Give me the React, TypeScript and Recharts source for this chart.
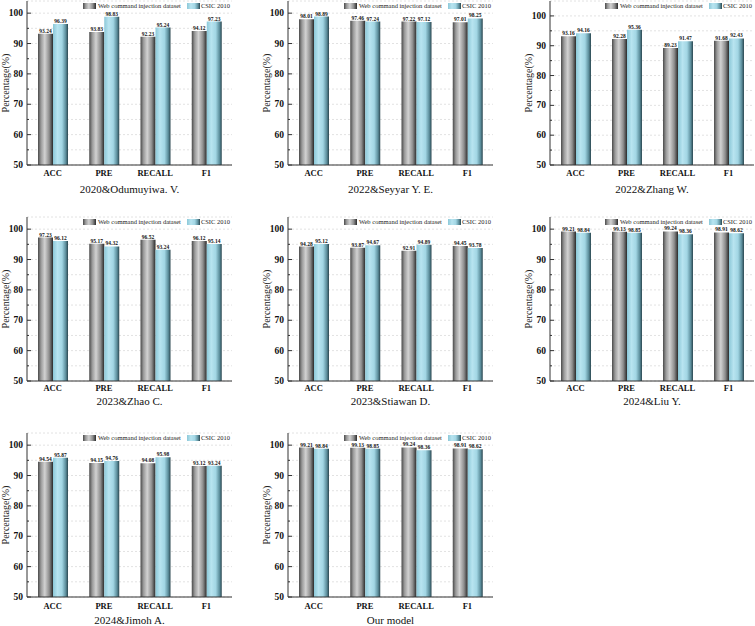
import React from 'react';
import { BarChart, Bar, XAxis, YAxis, CartesianGrid, LabelList, Legend, Label } from 'recharts';

const metrics = ['ACC', 'PRE', 'RECALL', 'F1'];
const yTicks = [50, 55, 60, 65, 70, 75, 80, 85, 90, 95, 100];
const seriesNames = ['Web command injection dataset', 'CSIC 2010'];

const odumuyiwaWeb = [93.24, 93.83, 92.23, 94.12];
const odumuyiwaCsic = [96.39, 98.83, 95.24, 97.23];
const seyyarWeb = [98.01, 97.46, 97.22, 97.01];
const seyyarCsic = [98.89, 97.24, 97.12, 98.25];
const zhangWeb = [93.16, 92.28, 89.23, 91.68];
const zhangCsic = [94.16, 95.36, 91.47, 92.43];
const zhaoWeb = [97.23, 95.17, 96.52, 96.12];
const zhaoCsic = [96.12, 94.32, 93.24, 95.14];
const stiawanWeb = [94.28, 93.87, 92.91, 94.45];
const stiawanCsic = [95.12, 94.67, 94.89, 93.78];
const liuWeb = [99.21, 99.13, 99.24, 98.91];
const liuCsic = [98.84, 98.85, 98.36, 98.62];
const jimohWeb = [94.54, 94.15, 94.08, 93.12];
const jimohCsic = [95.87, 94.76, 95.98, 93.24];
const oursWeb = [99.21, 99.13, 99.24, 98.91];
const oursCsic = [98.84, 98.85, 98.36, 98.62];

const panels = [
  { title: '2020&Odumuyiwa. V.', web: odumuyiwaWeb, csic: odumuyiwaCsic, col: 0, row: 0, yMax: 104 },
  { title: '2022&Seyyar Y. E.', web: seyyarWeb, csic: seyyarCsic, col: 1, row: 0, yMax: 104 },
  { title: '2022&Zhang W.', web: zhangWeb, csic: zhangCsic, col: 2, row: 0, yMax: 105 },
  { title: '2023&Zhao C.', web: zhaoWeb, csic: zhaoCsic, col: 0, row: 1, yMax: 104 },
  { title: '2023&Stiawan D.', web: stiawanWeb, csic: stiawanCsic, col: 1, row: 1, yMax: 104 },
  { title: '2024&Liu Y.', web: liuWeb, csic: liuCsic, col: 2, row: 1, yMax: 104 },
  { title: '2024&Jimoh A.', web: jimohWeb, csic: jimohCsic, col: 0, row: 2, yMax: 104 },
  { title: 'Our model', web: oursWeb, csic: oursCsic, col: 1, row: 2, yMax: 104 },
];

// layout of the 3x3 grid
const colLeft = [0, 250, 505];
const yAxisWidth = [27, 38, 45];
const rightMargin = [18, 7, 1];
const rowTop = [0, 216, 432];
const rowXAxisHeight = [36, 36, 28];
const rowTitleDy = [24, 20, 22.5];
const rowTickMargin = [5, 4, 6];

const serif = "'Liberation Serif', 'Times New Roman', serif";
const grayCss = 'linear-gradient(to right, #4a4a4a, #9a9a9a 20%, #d2d2d2 45%, #8e8e8e 75%, #2a2a2a)';
const blueCss = 'linear-gradient(to right, #8cc8d8, #b8e4f0 30%, #a2d6e4 60%, #5c8e9c 85%, #2a464f)';

const YTick = (props: any) => {
  const { x, y, payload } = props;
  const major = payload.value % 10 === 0;
  const ax = x + 4;
  return (
    <g>
      <line x1={ax} x2={ax + (major ? 4 : 2)} y1={y} y2={y} stroke="#333" strokeWidth={1} />
      {major && (
        <text x={x} y={y} textAnchor="end" dominantBaseline="central" fontFamily={serif} fontWeight="bold" fontSize={9.5} fill="#111">
          {payload.value}
        </text>
      )}
    </g>
  );
};

const LegendBox = () => (
  <div style={{ display: 'flex', alignItems: 'center', fontFamily: serif, fontSize: 6.5, lineHeight: '7px', color: '#222', whiteSpace: 'nowrap' }}>
    <span style={{ display: 'inline-block', width: 13, height: 6, background: grayCss, marginRight: 2 }} />
    <span>{seriesNames[0]}</span>
    <span style={{ display: 'inline-block', width: 13, height: 6, background: blueCss, marginLeft: 6, marginRight: 1 }} />
    <span>{seriesNames[1]}</span>
  </div>
);

const Panel = ({ p, idx }: { p: (typeof panels)[number]; idx: number }) => {
  const data = metrics.map((m, i) => ({ name: m, web: p.web[i], csic: p.csic[i] }));
  const w = yAxisWidth[p.col];
  const h = 1 + 164 + rowXAxisHeight[p.row];
  const fmt = (v: any) => Number(v).toFixed(2);
  return (
    <div style={{ position: 'absolute', left: colLeft[p.col], top: rowTop[p.row] }}>
      <BarChart
        width={250}
        height={h}
        data={data}
        barGap={0}
        margin={{ top: 1, right: rightMargin[p.col], bottom: 0, left: 0 }}
      >
        <defs>
          <linearGradient id={`gray${idx}`} x1="0" y1="0" x2="1" y2="0">
            <stop offset="0%" stopColor="#4a4a4a" />
            <stop offset="20%" stopColor="#9a9a9a" />
            <stop offset="45%" stopColor="#d2d2d2" />
            <stop offset="75%" stopColor="#8e8e8e" />
            <stop offset="100%" stopColor="#2a2a2a" />
          </linearGradient>
          <linearGradient id={`blue${idx}`} x1="0" y1="0" x2="1" y2="0">
            <stop offset="0%" stopColor="#8cc8d8" />
            <stop offset="30%" stopColor="#b8e4f0" />
            <stop offset="60%" stopColor="#a2d6e4" />
            <stop offset="85%" stopColor="#5c8e9c" />
            <stop offset="100%" stopColor="#2a464f" />
          </linearGradient>
        </defs>
        <CartesianGrid vertical={false} stroke="#e2e2e2" strokeDasharray="2 2" />
        <XAxis
          dataKey="name"
          height={rowXAxisHeight[p.row]}
          tickLine={false}
          tickSize={0}
          tickMargin={rowTickMargin[p.row]}
          axisLine={{ stroke: '#333' }}
          tick={{ fontFamily: serif, fontWeight: 'bold', fontSize: 8.5, fill: '#111' }}
          interval={0}
        >
          <Label
            content={(lp: any) => {
              const vb = lp.viewBox;
              return (
                <text x={vb.x + vb.width / 2} y={vb.y + rowTitleDy[p.row]} textAnchor="middle" dominantBaseline="central" fontFamily={serif} fontSize={11} fill="#111">
                  {p.title}
                </text>
              );
            }}
          />
        </XAxis>
        <XAxis xAxisId="top" orientation="top" dataKey="name" height={0} tick={false} tickLine={false} axisLine={{ stroke: '#333' }} />
        <YAxis
          width={w}
          domain={[50, p.yMax]}
          ticks={yTicks}
          allowDataOverflow
          interval={0}
          tickLine={false}
          tickSize={0}
          tickMargin={4}
          axisLine={{ stroke: '#333' }}
          tick={<YTick />}
        >
          <Label
            content={(lp: any) => {
              const vb = lp.viewBox;
              const cx = vb.x + w - 22;
              const cy = vb.y + vb.height / 2;
              return (
                <text x={cx} y={cy} transform={`rotate(-90 ${cx} ${cy})`} textAnchor="middle" dominantBaseline="central" fontFamily={serif} fontSize={10} fill="#222">
                  Percentage(%)
                </text>
              );
            }}
          />
        </YAxis>
        <YAxis yAxisId="right" orientation="right" width={0} domain={[50, p.yMax]} tick={false} tickLine={false} axisLine={{ stroke: '#333' }} />
        <Legend
          layout="horizontal"
          verticalAlign="middle"
          align="center"
          content={() => <LegendBox />}
          wrapperStyle={{ top: 2, right: rightMargin[p.col] + 2, left: 'auto', width: 'auto' }}
        />
        <Bar dataKey="web" fill={`url(#gray${idx})`} barSize={15} isAnimationActive={false}>
          <LabelList dataKey="web" position="top" offset={1} formatter={fmt} fontFamily={serif} fontWeight="bold" fontSize={5.5} fill="#111" />
        </Bar>
        <Bar dataKey="csic" fill={`url(#blue${idx})`} barSize={15} isAnimationActive={false}>
          <LabelList dataKey="csic" position="top" offset={1} formatter={fmt} fontFamily={serif} fontWeight="bold" fontSize={5.5} fill="#111" />
        </Bar>
      </BarChart>
    </div>
  );
};

export default function App() {
  return (
    <div style={{ position: 'absolute', left: 0, top: 0, width: 755, height: 626, background: '#fff', overflow: 'hidden' }}>
      {panels.map((p, i) => (
        <Panel key={p.title} p={p} idx={i} />
      ))}
    </div>
  );
}
